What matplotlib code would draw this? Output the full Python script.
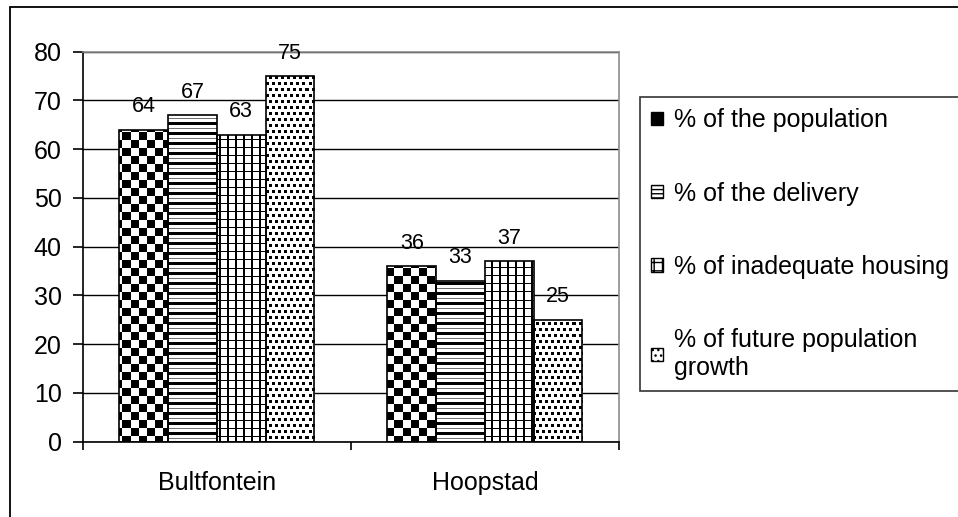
import numpy as np
import matplotlib
matplotlib.use("Agg")
import matplotlib.pyplot as plt
from matplotlib.patches import Patch, Rectangle

plt.rcParams['font.family'] = ['Liberation Sans', 'DejaVu Sans']

# ---------------------------------------------------------------------------
# datos
# ---------------------------------------------------------------------------
categories = ['Bultfontein', 'Hoopstad']
series_names = ['% of the population', '% of the delivery',
                '% of inadequate housing', '% of future population\ngrowth']
population = [64, 36]
delivery = [67, 33]
inadequate = [63, 37]
future_growth = [75, 25]
series_values = [population, delivery, inadequate, future_growth]
yticks = [0, 10, 20, 30, 40, 50, 60, 70, 80]

patterns = ['checker', 'hlines', 'grid', 'dots']
legend_hatches = [None, '----', '++', '...']
legend_faces = ['black', 'white', 'white', 'white']

# ---------------------------------------------------------------------------
# figura
# ---------------------------------------------------------------------------
W_PX, H_PX = 958, 517
fig = plt.figure(figsize=(W_PX / 100, H_PX / 100), dpi=100)
ax_left, ax_right, ax_top, ax_bottom = 82.7, 619.0, 51.7, 441.7
ax = fig.add_axes([ax_left / W_PX, 1 - ax_bottom / H_PX,
                   (ax_right - ax_left) / W_PX, (ax_bottom - ax_top) / H_PX])

XLIM = (-0.5, len(categories) - 0.5)
YLIM = (0, 80)
tex_w = int(round(ax_right - ax_left))
tex_h = int(round(ax_bottom - ax_top))


def texture(kind):
    """Trama en pixeles (1 = blanco, 0 = negro) para rellenar las barras."""
    yy, xx = np.mgrid[0:tex_h, 0:tex_w]
    if kind == 'checker':
        t = ((yy // 8 + xx // 8) % 2).astype(float)
    elif kind == 'hlines':
        t = ((yy % 10) < 3).astype(float)
        t[(yy % 10) == 6] = 0.55
    elif kind == 'grid':
        t = (((xx % 8) < 2) | ((yy % 8) < 1)).astype(float)
    else:
        shift = 3 * ((yy // 6) % 2)
        t = (((yy % 6) < 3) & (((xx + shift) % 6) < 3)).astype(float)
    return 1 - t


width = 0.1818
x = np.arange(len(categories))
offsets = (np.arange(len(series_values)) - (len(series_values) - 1) / 2) * width

for vals, off, pat in zip(series_values, offsets, patterns):
    bars = ax.bar(x + off, vals, width, fill=False, edgecolor='black',
                  linewidth=1.2, zorder=3)
    tex = texture(pat)
    for b in bars:
        im = ax.imshow(tex, extent=(XLIM[0], XLIM[1], YLIM[0], YLIM[1]),
                       aspect='auto', cmap='gray', vmin=0, vmax=1,
                       interpolation='nearest', zorder=2)
        im.set_clip_path(b)
    for xi, v in zip(x + off, vals):
        ax.annotate(f'{v}', (xi, v), xytext=(0, 12.5), textcoords='offset points',
                    ha='center', va='baseline', fontsize=15.5, zorder=4)

ax.set_xlim(*XLIM)
ax.set_ylim(*YLIM)

# ejes y rejilla
ax.set_yticks(yticks)
ax.tick_params(axis='y', length=7.2, width=1.2, pad=8, labelsize=18)
ax.yaxis.grid(True, color='black', linewidth=1)
ax.set_axisbelow(True)

ax.set_xticks([-0.5, 0.5, 1.5])
ax.set_xticklabels([])
ax.tick_params(axis='x', which='major', length=5.5, width=1.2)
ax.set_xticks(x, minor=True)
ax.set_xticklabels(categories, minor=True)
ax.tick_params(axis='x', which='minor', length=0, pad=21, labelsize=18)

for s in ['left', 'bottom']:
    ax.spines[s].set_linewidth(1.2)
for s in ['top', 'right']:
    ax.spines[s].set_color('#8c8c8c')
    ax.spines[s].set_linewidth(1.2)

# leyenda
handles = [Patch(facecolor=fc, edgecolor='black', hatch=h, linewidth=1)
           for fc, h in zip(legend_faces, legend_hatches)]
leg = fig.legend(handles, series_names, loc='upper left',
                 bbox_to_anchor=(640 / W_PX, 1 - 97 / H_PX), borderaxespad=0,
                 fontsize=18, frameon=True, fancybox=False, handlelength=0.45,
                 handleheight=0.45, handletextpad=0.45, labelspacing=1.97,
                 borderpad=0.45)
leg.get_frame().set_edgecolor('black')
leg.get_frame().set_linewidth(1.2)

# marco exterior
fig.patches.append(Rectangle((10 / W_PX, -0.1), 1.2, 1.1 - 7.3 / H_PX,
                             transform=fig.transFigure, fill=False,
                             edgecolor='black', linewidth=1.3))

fig.savefig('out.png', dpi=100)
